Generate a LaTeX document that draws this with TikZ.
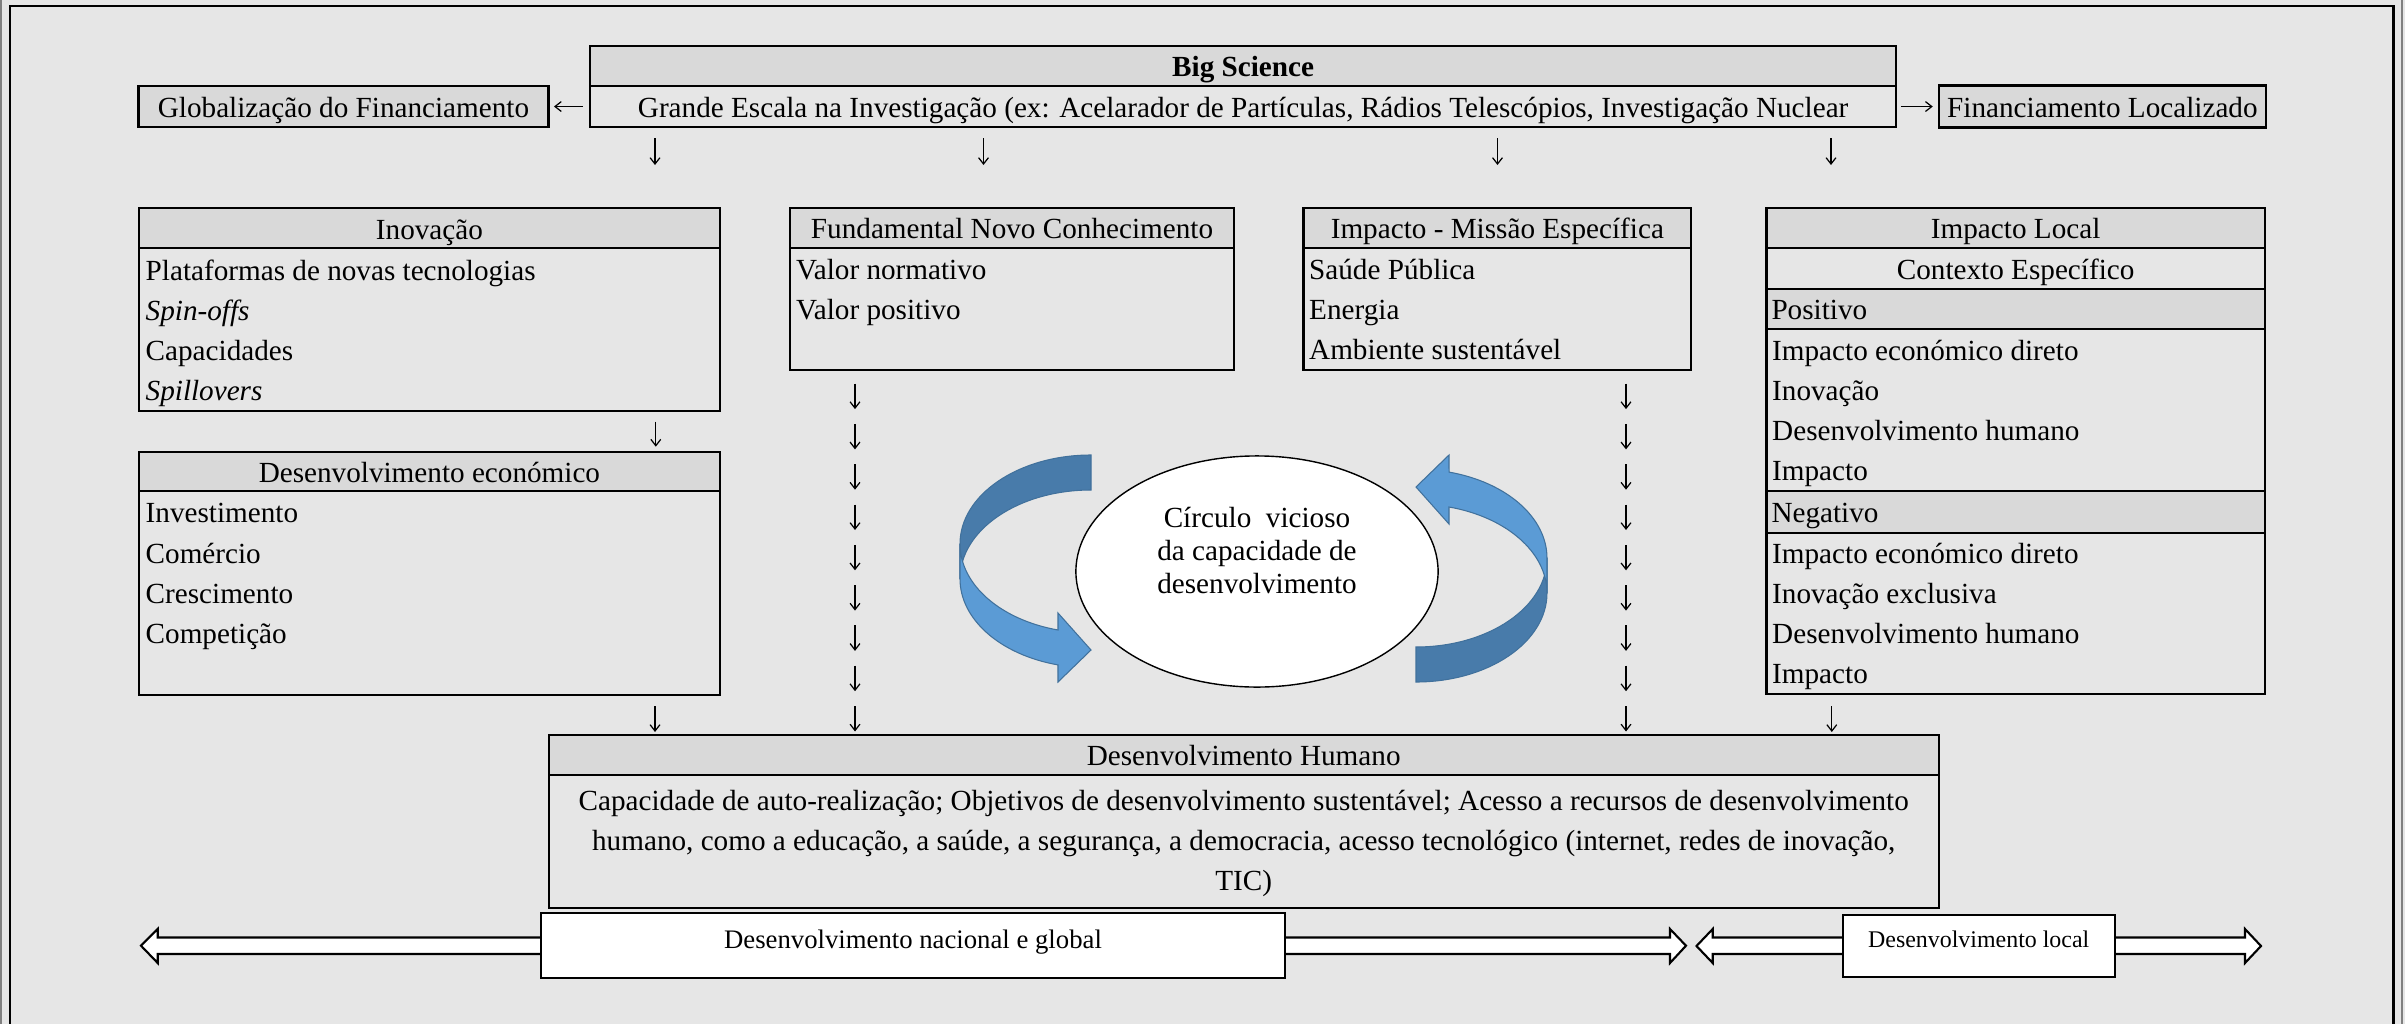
\documentclass[tikz,border=0pt]{standalone}
\usepackage{fontspec}
\setmainfont{Liberation Serif}
\usetikzlibrary{positioning, calc, shapes.geometric, arrows.meta}
\definecolor{bggray}{HTML}{E6E6E6}
\definecolor{hdrgray}{HTML}{D9D9D9}
\definecolor{ribdark}{HTML}{487BAA}
\definecolor{riblight}{HTML}{5B9BD5}
\definecolor{ribedge}{HTML}{41719C}
\tikzset{
    hdr/.style = {draw, line width=0.6pt, fill=hdrgray, inner sep=0pt, outer sep=0pt,
        minimum height=0.4cm, text height=7pt, text depth=0.8pt},
    row/.style = {hdr, fill=none},
    body/.style = {draw, line width=0.6pt, inner sep=0pt, outer sep=0pt},
    itm/.style = {anchor=base west, inner sep=0pt},
    glyph/.style = {line width=0.35pt, -{Straight Barb[length=1.8pt,width=2.8pt]}},
    fat/.style = {draw, line width=0.6pt, fill=white, inner sep=0pt},
    back/.style = {fill=ribdark, draw=ribedge, line width=0.3pt},
    front/.style = {fill=riblight, draw=ribedge, line width=0.3pt},
}
\begin{document}
\begin{tikzpicture}[x=0.01cm, y=-0.01cm,
    every node/.append style={font=\fontsize{8.3}{11.3}\selectfont}]
    \useasboundingbox (0,0) rectangle (2405,1024);
    \clip (0,0) rectangle (2405,1024);
    \fill[bggray] (0,0) rectangle (2405,1024);
    \draw[line width=0.85pt] (10,1030) |- (2393,6) -- (2393,1030);
    \draw[gray, line width=0.5pt] (1,0) -- (1,1024) (2402,0) -- (2402,1024);

    % top
    \node[hdr, anchor=north west, minimum width=13.055cm] (big) at (590,46) {\textbf{Big Science}};
    \node[row, below=0pt of big, minimum width=13.055cm, minimum height=0.41cm] (bigsub)
        {Grande Escala na Investigação (ex: Acelarador de Partículas, Rádios Telescópios, Investigação Nuclear};
    \node[hdr, left=0.415cm of bigsub, minimum width=4.097cm, minimum height=0.417cm] (glob) {Globalização do Financiamento};
    \node[hdr, right=0.425cm of bigsub, minimum width=3.27cm, minimum height=0.42cm] (finloc) {Financiamento Localizado};
    \draw[glyph, shorten <=0.07cm, shorten >=0.055cm] (bigsub.west) -- (glob.east);
    \draw[glyph, shorten <=0.045cm, shorten >=0.06cm] (bigsub.east) -- (finloc.west);
    \foreach \x in {655,983.5,1497.5,1831}
        \draw[glyph] (\x,138) -- (\x,165);

    % Inovacao
    \node[hdr, anchor=north west, minimum width=5.805cm] (inov) at (139,208.3) {Inovação};
    \node[body, below=0pt of inov, minimum width=5.805cm, minimum height=1.622cm] (inovbody) {};
    \foreach \t [count=\i from 0] in {Plataformas de novas tecnologias, \textit{Spin-offs}, Capacidades, \textit{Spillovers}}
        \node[itm] (inov-\i) at ($(inovbody.north west)+(6,32+40*\i)$) {\t};

    % Fundamental
    \node[hdr, anchor=north west, minimum width=4.432cm] (fund) at (790.3,208) {Fundamental Novo Conhecimento};
    \node[body, below=0pt of fund, minimum width=4.432cm, minimum height=1.22cm] (fundbody) {};
    \foreach \t [count=\i from 0] in {Valor normativo, Valor positivo}
        \node[itm] (fund-\i) at ($(fundbody.north west)+(5,31+40*\i)$) {\t};

    % Missao
    \node[hdr, anchor=north west, minimum width=3.875cm] (miss) at (1303.5,208) {Impacto - Missão Específica};
    \node[body, below=0pt of miss, minimum width=3.875cm, minimum height=1.22cm] (missbody) {};
    \foreach \t [count=\i from 0] in {Saúde Pública, Energia, Ambiente sustentável}
        \node[itm] (miss-\i) at ($(missbody.north west)+(5,31+40*\i)$) {\t};

    % Impacto local
    \node[hdr, anchor=north west, minimum width=4.98cm] (loc) at (1766.5,208) {Impacto Local};
    \node[row, below=0pt of loc, minimum width=4.98cm, minimum height=0.41cm] (ctx) {Contexto Específico};
    \node[hdr, below=0pt of ctx, minimum width=4.98cm, text width=4.88cm, align=left] (pos) {Positivo};
    \node[body, below=0pt of pos, minimum width=4.98cm, minimum height=1.617cm] (posbody) {};
    \foreach \t [count=\i from 0] in {Impacto económico direto, Inovação, Desenvolvimento humano, Impacto}
        \node[itm] (pos-\i) at ($(posbody.north west)+(5,31+40.3*\i)$) {\t};
    \node[hdr, below=0pt of posbody, minimum width=4.98cm, minimum height=0.42cm, text width=4.88cm, align=left] (neg) {Negativo};
    \node[body, below=0pt of neg, minimum width=4.98cm, minimum height=1.613cm] (negbody) {};
    \foreach \t [count=\i from 0] in {Impacto económico direto, Inovação exclusiva, Desenvolvimento humano, Impacto}
        \node[itm] (neg-\i) at ($(negbody.north west)+(5,30.5+40*\i)$) {\t};

    % Desenvolvimento economico
    \draw[glyph] (655.8,421.7) -- (655.8,446.7);
    \node[hdr, below=0.412cm of inovbody, minimum width=5.805cm, minimum height=0.39cm] (econ) {Desenvolvimento económico};
    \node[body, below=0pt of econ, minimum width=5.805cm, minimum height=2.036cm] (econbody) {};
    \foreach \t [count=\i from 0] in {Investimento, Comércio, Crescimento, Competição}
        \node[itm] (econ-\i) at ($(econbody.north west)+(6,32+40.2*\i)$) {\t};

    % columns of arrows
    \foreach \i in {0,...,8} {
        \draw[glyph] (855,383.6+40.3*\i) -- ++(0,25.5);
        \draw[glyph] (1626,383.6+40.3*\i) -- ++(0,25.5);
    }
    \foreach \x in {655,1831.8}
        \draw[glyph] (\x,706) -- (\x,732);

    % circle with ribbons
    \fill[back] (1091,455) arc[start angle=270, end angle=180, x radius=131, y radius=88.9]
        -- (960,578.9) arc[start angle=180, end angle=270, x radius=131, y radius=88.9] -- cycle;
    \fill[front] (1058,630) arc[start angle=104.6, end angle=180, x radius=131, y radius=88.9]
        -- (960,578.9) arc[start angle=180, end angle=104.6, x radius=131, y radius=88.9]
        -- (1058,682) -- (1091,650) -- (1058,613) -- cycle;
    \begin{scope}[rotate around={180:(1253.5,568.5)}]
        \fill[back] (1091,455) arc[start angle=270, end angle=180, x radius=131, y radius=88.9]
            -- (960,578.9) arc[start angle=180, end angle=270, x radius=131, y radius=88.9] -- cycle;
        \fill[front] (1058,630) arc[start angle=104.6, end angle=180, x radius=131, y radius=88.9]
            -- (960,578.9) arc[start angle=180, end angle=104.6, x radius=131, y radius=88.9]
            -- (1058,682) -- (1091,650) -- (1058,613) -- cycle;
    \end{scope}
    \node[draw, ellipse, line width=0.4pt, fill=white, inner sep=0pt,
        minimum width=3.62cm, minimum height=2.31cm] (circ) at (1257,571.5) {};
    \foreach \t [count=\i from 0] in {Círculo\ \ vicioso, da capacidade de, desenvolvimento}
        \node[anchor=base, inner sep=0pt] (circ-\i) at ($(circ.center)+(0,-44.5+33*\i)$) {\t};

    % Desenvolvimento humano
    \node[hdr, anchor=north west, minimum width=13.894cm] (dh) at (548.6,735) {Desenvolvimento Humano};
    \node[body, below=0pt of dh, minimum width=13.894cm, minimum height=1.327cm] (dhbody) {};
    \foreach \t [count=\i from 0] in {{Capacidade de auto-realização; Objetivos de desenvolvimento sustentável; Acesso a recursos de desenvolvimento},
        {humano, como a educação, a saúde, a segurança, a democracia, acesso tecnológico (internet, redes de inovação,}, {TIC)}}
        \node[anchor=base, inner sep=0pt] (dh-\i) at ($(dhbody.north)+(0,35+40*\i)$) {\t};

    % bottom double arrows
    \draw[fat] (141,945.7) -- (157.7,929) -- (157.7,937.5) -- (1670,937.5) -- (1670,929) -- (1686,945.7)
        -- (1670,963) -- (1670,954) -- (157.7,954) -- (157.7,963) -- cycle;
    \node[fat, minimum width=7.428cm, minimum height=0.65cm, font=\fontsize{7.6}{9}\selectfont,
        text height=5.2pt, text depth=3.7pt] (natglob) at (913,945.5) {Desenvolvimento nacional e global};
    \draw[fat] (1696.5,946) -- (1712.7,929) -- (1712.7,937.5) -- (2245,937.5) -- (2245,929) -- (2261,946)
        -- (2245,963) -- (2245,954) -- (1712.7,954) -- (1712.7,963) -- cycle;
    \node[fat, minimum width=2.721cm, minimum height=0.62cm, font=\fontsize{6.8}{8}\selectfont,
        text height=4.6pt, text depth=3.5pt] (devloc) at (1978.7,946) {Desenvolvimento local};
\end{tikzpicture}
\end{document}
